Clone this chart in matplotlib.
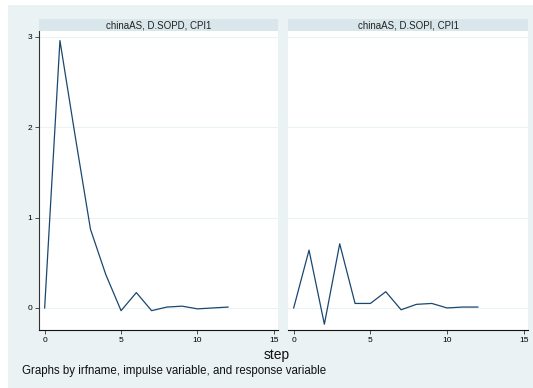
import matplotlib
matplotlib.use('Agg')
import matplotlib.pyplot as plt
from matplotlib.patches import Rectangle

plt.rcParams['font.family'] = ['Liberation Sans', 'DejaVu Sans']

steps = list(range(13))
sopd_irf = [0.0, 2.96, 1.90, 0.87, 0.37, -0.03, 0.17, -0.03, 0.01, 0.02, -0.01, 0.0, 0.01]
sopi_irf = [0.0, 0.64, -0.18, 0.71, 0.05, 0.05, 0.18, -0.02, 0.04, 0.05, 0.0, 0.01, 0.01]
panel_titles = ['chinaAS, D.SOPD, CPI1', 'chinaAS, D.SOPI, CPI1']
xticks = [0, 5, 10, 15]
yticks = [0, 1, 2, 3]

lineColor = '#1a476f'
bgColor = '#eaf2f3'
stripColor = '#d9e6eb'
gridColor = '#eaf2f3'

W, H = 533, 388
fig = plt.figure(figsize=(W / 100, H / 100), dpi=100)
fig.patch.set_facecolor('white')
fig.patches.append(Rectangle((8 / W, 0), 1 - 8 / W, 1 - 5 / H, transform=fig.transFigure,
                             facecolor=bgColor, edgecolor='none', zorder=-10))


def px_box(x0, y0, x1, y1):
    return [x0 / W, 1 - y1 / H, (x1 - x0) / W, (y1 - y0) / H]


panels = [(39, 278), (288, 528)]
series = [sopd_irf, sopi_irf]

for i, (x0, x1) in enumerate(panels):
    ax = fig.add_axes(px_box(x0, 31, x1, 330))
    ax.set_facecolor('white')
    ax.plot(steps, series[i], color=lineColor, linewidth=0.9)
    ax.set_xlim(-0.37, 15.27)
    ax.set_ylim(-0.244, 3.066)
    ax.set_xticks(xticks)
    ax.set_yticks(yticks)
    for y in yticks:
        ax.axhline(y, color=gridColor, linewidth=0.8, zorder=0)
    ax.tick_params(axis='both', labelsize=6, length=3, width=0.6, pad=2, color='#333333')
    ax.spines['top'].set_visible(False)
    ax.spines['right'].set_visible(False)
    ax.spines['bottom'].set_linewidth(0.8)
    ax.spines['bottom'].set_color('#111111')
    if i == 0:
        ax.spines['left'].set_linewidth(0.8)
        ax.spines['left'].set_color('#333333')
    else:
        ax.spines['left'].set_visible(False)
        ax.tick_params(axis='y', left=False, labelleft=False)

    strip = fig.add_axes(px_box(x0, 19, x1, 31))
    strip.set_facecolor(stripColor)
    strip.set_xticks([])
    strip.set_yticks([])
    for s in strip.spines.values():
        s.set_visible(False)
    strip.text(0.5, 0.5, panel_titles[i], ha='center', va='center', fontsize=7,
               color='#222222', transform=strip.transAxes)

fig.text(277 / W, 1 - 355 / H, 'step', ha='center', va='center', fontsize=10, color='#111111')
fig.text(22 / W, 1 - 371 / H, 'Graphs by irfname, impulse variable, and response variable',
         ha='left', va='center', fontsize=8.3, color='#111111')

fig.savefig('out.png', dpi=100, facecolor=fig.get_facecolor())
